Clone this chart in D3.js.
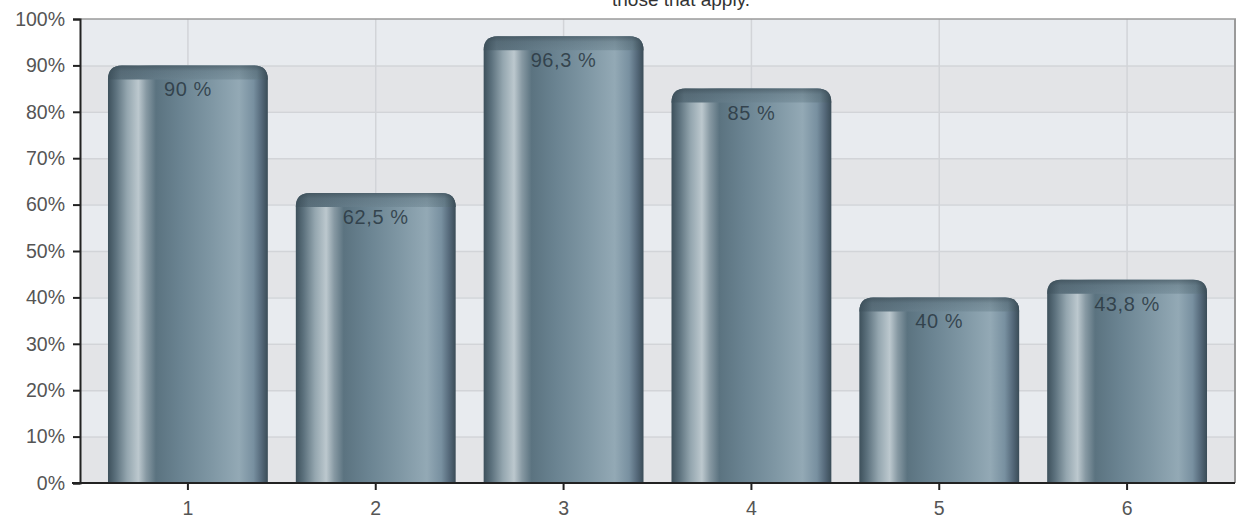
<!DOCTYPE html>
<html><head><meta charset="utf-8">
<script src="https://cdn.jsdelivr.net/npm/d3@7"></script>
<style>body{margin:0;background:#fff;overflow:hidden} svg{display:block;font-family:"Liberation Sans",Arial,sans-serif}</style>
</head><body><svg id="c" width="1239" height="518"></svg>
<script>
const categories = ["1", "2", "3", "4", "5", "6"];
const values = [90, 62.5, 96.3, 85, 40, 43.8];
const valueLabels = ["90 %", "62,5 %", "96,3 %", "85 %", "40 %", "43,8 %"];
const yTicks = [0, 10, 20, 30, 40, 50, 60, 70, 80, 90, 100];
const yTickLabels = ["0%", "10%", "20%", "30%", "40%", "50%", "60%", "70%", "80%", "90%", "100%"];
const titleText = "those that apply.";

const L = 80, R = 1235, T = 19, B = 483;
const svg = d3.select("#c");
const x = d3.scaleBand().domain(categories).range([L, R]).padding(0.149);
const y = d3.scaleLinear().domain([0, 100]).range([B, T]);

const defs = svg.append("defs");
const g1 = defs.append("linearGradient").attr("id", "barGrad").attr("x1", 0).attr("x2", 1).attr("y1", 0).attr("y2", 0);
[[0, "#3d505b"], [0.05, "#5d727e"], [0.12, "#94a6af"], [0.19, "#bcc8ce"], [0.24, "#8799a3"], [0.30, "#5b7380"], [0.45, "#6a8391"], [0.65, "#7f97a4"], [0.82, "#93a9b5"], [0.91, "#7890a0"], [0.96, "#55697a"], [1, "#3a4c57"]]
  .forEach(([o, c]) => g1.append("stop").attr("offset", o).attr("stop-color", c));
const g2 = defs.append("linearGradient").attr("id", "capGrad").attr("x1", 0).attr("x2", 1).attr("y1", 0).attr("y2", 0);
[[0, "#3d505b"], [0.08, "#5a6f7b"], [0.3, "#637a87"], [0.6, "#728a97"], [0.82, "#7f96a2"], [0.93, "#667d8a"], [1, "#3a4c57"]]
  .forEach(([o, c]) => g2.append("stop").attr("offset", o).attr("stop-color", c));
const g3 = defs.append("linearGradient").attr("id", "capShade").attr("x1", 0).attr("x2", 0).attr("y1", 0).attr("y2", 1);
[[0, "#2c3b44", 0.45], [0.4, "#2c3b44", 0.1], [1, "#2c3b44", 0]]
  .forEach(([o, c, op]) => g3.append("stop").attr("offset", o).attr("stop-color", c).attr("stop-opacity", op));

// background bands
const bands = d3.range(10);
svg.append("g").selectAll("rect").data(bands).join("rect")
  .attr("x", L).attr("width", R - L)
  .attr("y", d => y(d * 10 + 10)).attr("height", d => y(d * 10) - y(d * 10 + 10))
  .attr("fill", d => d % 2 === 0 ? "#e3e4e7" : "#e8ebef");

// grid
svg.append("g").selectAll("line").data(yTicks.slice(1, -1)).join("line")
  .attr("x1", L).attr("x2", R).attr("y1", d => y(d) + 0.5).attr("y2", d => y(d) + 0.5)
  .attr("stroke", "#d2d4d8").attr("stroke-width", 1.5);
svg.append("g").selectAll("line").data(categories).join("line")
  .attr("x1", d => x(d) + x.bandwidth() / 2).attr("x2", d => x(d) + x.bandwidth() / 2)
  .attr("y1", T).attr("y2", B).attr("stroke", "#d2d4d8").attr("stroke-width", 1.5);

// borders
svg.append("line").attr("x1", L).attr("x2", R + 1).attr("y1", T).attr("y2", T).attr("stroke", "#9a9a9a").attr("stroke-width", 1.5);
svg.append("line").attr("x1", R).attr("x2", R).attr("y1", T).attr("y2", B).attr("stroke", "#9a9a9a").attr("stroke-width", 2);

// title (only its last line shows at the top edge, as in the reference)
svg.append("text").attr("x", 681).attr("y", 6).attr("text-anchor", "middle")
  .attr("font-size", 19).attr("fill", "#333").text(titleText);

function topRounded(x0, w, yt, yb, r) {
  r = Math.min(r, (yb - yt), w / 2);
  return `M${x0},${yb}V${yt + r}Q${x0},${yt} ${x0 + r},${yt}H${x0 + w - r}Q${x0 + w},${yt} ${x0 + w},${yt + r}V${yb}Z`;
}

const data = categories.map((c, i) => ({ c, v: values[i], lab: valueLabels[i] }));
const bg = svg.append("g").selectAll("g").data(data).join("g");
bg.append("path")
  .attr("d", d => topRounded(x(d.c), x.bandwidth(), y(d.v), B, 14))
  .attr("fill", "url(#barGrad)");
bg.append("path")
  .attr("d", d => topRounded(x(d.c), x.bandwidth(), y(d.v), y(d.v) + 14, 14))
  .attr("fill", "url(#capGrad)");
bg.append("path")
  .attr("d", d => topRounded(x(d.c), x.bandwidth(), y(d.v), y(d.v) + 14, 14))
  .attr("fill", "url(#capShade)");
bg.append("text")
  .attr("x", d => x(d.c) + x.bandwidth() / 2).attr("y", d => y(d.v) + 31)
  .attr("text-anchor", "middle").attr("font-size", 20).attr("letter-spacing", 0.6)
  .attr("fill", "#2a3842").attr("fill-opacity", 0.85).text(d => d.lab);

// axes
const yAxis = d3.axisLeft(y).tickValues(yTicks).tickFormat((d, i) => yTickLabels[i]).tickSize(7).tickPadding(8);
const ya = svg.append("g").attr("transform", `translate(${L},0)`).call(yAxis);
ya.select(".domain").attr("stroke", "#222").attr("stroke-width", 2);
ya.selectAll(".tick line").attr("stroke", "#222").attr("stroke-width", 2);
ya.selectAll("text").attr("font-size", 19.5).attr("fill", "#555").attr("font-family", "Liberation Sans, Arial, sans-serif");

const xAxis = d3.axisBottom(x).tickSize(7).tickPadding(11).tickSizeOuter(0);
const xa = svg.append("g").attr("transform", `translate(0,${B})`).call(xAxis);
xa.select(".domain").attr("stroke", "#222").attr("stroke-width", 2).attr("d", `M${L - 8},0H${R}`);
xa.selectAll(".tick line").attr("stroke", "#222").attr("stroke-width", 2);
xa.selectAll("text").attr("font-size", 19.5).attr("fill", "#555").attr("font-family", "Liberation Sans, Arial, sans-serif");
</script></body></html>
